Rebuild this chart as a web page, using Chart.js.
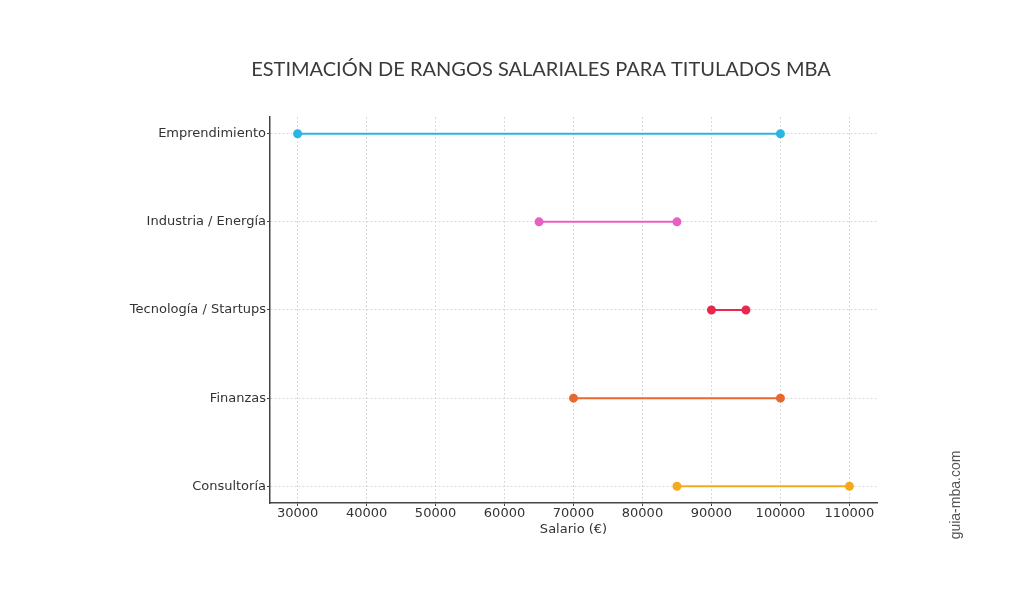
<!DOCTYPE html>
<html>
<head>
<meta charset="utf-8">
<script src="https://cdn.jsdelivr.net/npm/chart.js@4"></script>
<style>
  html, body { margin: 0; padding: 0; background: #fff; }
  #wrap { width: 1024px; height: 600px; position: relative; }
</style>
</head>
<body>
<div id="wrap"><canvas id="chart" width="1024" height="600"></canvas></div>
<script>
'use strict';

// data
const categorias = ['Emprendimiento', 'Industria / Energía', 'Tecnología / Startups', 'Finanzas', 'Consultoría'];
const salarioMin = [30000, 65000, 90000, 70000, 85000];
const salarioMax = [100000, 85000, 95000, 100000, 110000];
const colores = ['#2bb5e5', '#e760c2', '#e8294d', '#e8682f', '#f5aa1c'];
const ticksX = [30000, 40000, 50000, 60000, 70000, 80000, 90000, 100000, 110000];

const titulo = 'ESTIMACIÓN DE RANGOS SALARIALES PARA TITULADOS MBA';
const marca = 'guia-mba.com';

const datasets = categorias.map((cat, i) => ({
  label: cat,
  data: [{ x: salarioMin[i], y: i }, { x: salarioMax[i], y: i }],
  showLine: true,
  borderColor: colores[i],
  backgroundColor: colores[i],
  borderWidth: 2,
  pointRadius: 3.5,
  pointHoverRadius: 3.5,
}));

// title + watermark drawn straight on the canvas
const textos = {
  id: 'textos',
  afterDraw(chart) {
    const ctx = chart.ctx;
    ctx.save();
    ctx.fillStyle = '#3a3a3a';
    ctx.font = '20px Lato';
    ctx.textAlign = 'center';
    ctx.textBaseline = 'middle';
    ctx.fillText(titulo, 541, 70);

    ctx.translate(956, 495);
    ctx.rotate(-Math.PI / 2);
    ctx.fillStyle = '#555';
    ctx.font = '14px "Liberation Sans"';
    ctx.fillText(marca, 0, 0);
    ctx.restore();
  }
};

const gridOpts = {
  color: '#d8d8d8',
  lineWidth: 1,
  tickColor: '#444',
  tickLength: 3,
  drawTicks: true,
};

const chartConfig = {
  type: 'scatter',
  data: { datasets },
  options: {
    responsive: false,
    animation: false,
    layout: { padding: { left: 0, right: 147, top: 117, bottom: 63 } },
    plugins: {
      legend: { display: false },
      tooltip: { enabled: false },
    },
    scales: {
      x: {
        type: 'linear',
        min: 26000,
        max: 114000,
        afterBuildTicks: s => { s.ticks = ticksX.map(v => ({ value: v })); },
        afterFit: s => { s.height = 34; },
        ticks: {
          color: '#333',
          font: { family: 'DejaVu Sans', size: 13 },
          padding: 0,
          maxRotation: 0,
          callback: v => String(v),
        },
        grid: gridOpts,
        border: { display: true, color: '#444', width: 1.5, dash: [2, 2] },
        title: {
          display: true,
          text: 'Salario (€)',
          color: '#333',
          font: { family: 'DejaVu Sans', size: 13 },
          padding: { top: 0, bottom: 0 },
        },
      },
      y: {
        type: 'linear',
        reverse: true,
        min: -0.19,
        max: 4.19,
        afterBuildTicks: s => { s.ticks = categorias.map((c, i) => ({ value: i })); },
        afterFit: s => { s.width = 270; },
        ticks: {
          color: '#333',
          font: { family: 'DejaVu Sans', size: 13 },
          padding: 1,
          callback: v => categorias[v],
        },
        grid: gridOpts,
        border: { display: true, color: '#444', width: 1.5, dash: [2, 2] },
      },
    },
  },
  plugins: [textos],
};

const myChart = new Chart(document.getElementById('chart'), chartConfig);
</script>
</body>
</html>
